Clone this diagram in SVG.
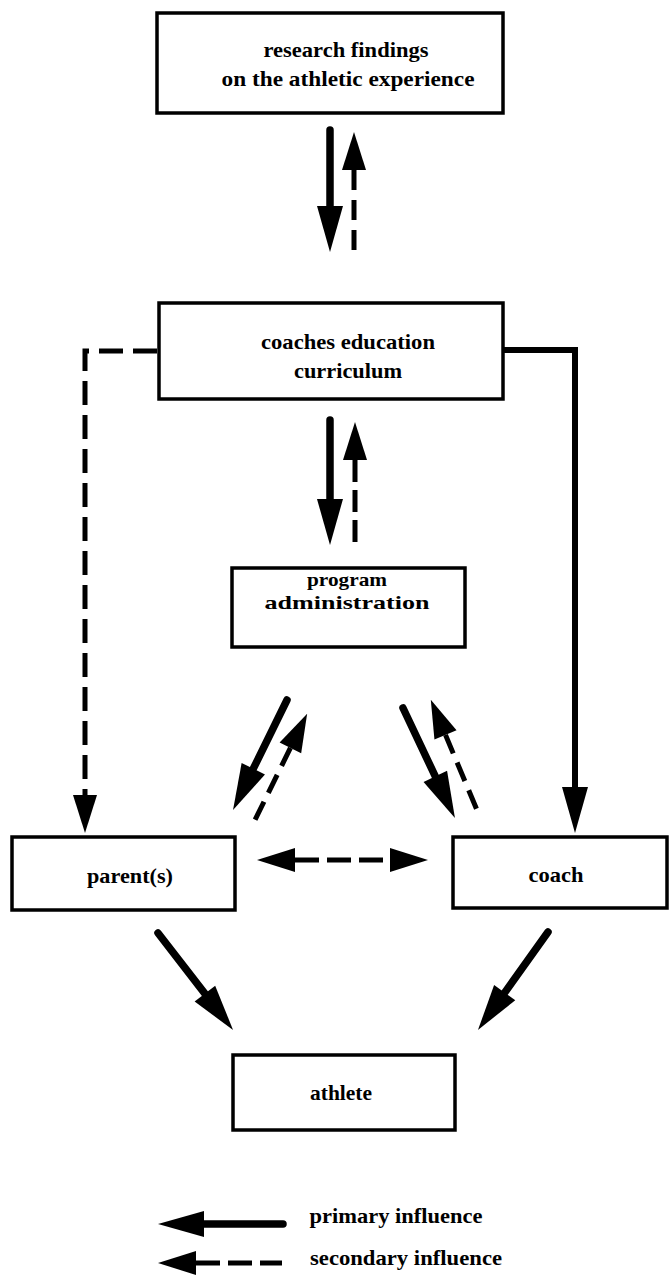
<svg xmlns="http://www.w3.org/2000/svg" width="670" height="1284" viewBox="0 0 670 1284">
<style>
.box{fill:#fff;stroke:#000;stroke-width:3.5}
.lbl{font-family:"Liberation Serif","Times New Roman",serif;font-weight:bold;font-size:21px;fill:#000;text-anchor:middle}
.sm{font-size:19px}
.pri{fill:none;stroke:#000;stroke-width:7.5;stroke-linecap:round;marker-end:url(#hp)}
.sec{fill:none;stroke:#000;stroke-width:5;stroke-dasharray:20 10;marker-start:url(#hs)}
.conn{fill:none;stroke:#000;stroke-width:6;stroke-linejoin:miter}
</style>
<defs>
<marker id="hp" markerUnits="userSpaceOnUse" orient="auto" refX="0" refY="0" markerWidth="60" markerHeight="40" viewBox="0 -20 60 40" overflow="visible">
<path d="M0,-13 L46,0 L0,13 Z" fill="#000"/>
</marker>
<marker id="hs" markerUnits="userSpaceOnUse" orient="auto-start-reverse" refX="0" refY="0" markerWidth="60" markerHeight="40" viewBox="0 -20 60 40" overflow="visible">
<path d="M0,-12 L38,0 L0,12 Z" fill="#000"/>
</marker>
<marker id="hse" markerUnits="userSpaceOnUse" orient="auto" refX="0" refY="0" markerWidth="60" markerHeight="40" viewBox="0 -20 60 40" overflow="visible">
<path d="M0,-12 L38,0 L0,12 Z" fill="#000"/>
</marker>
</defs>

<g id="research">
<rect class="box" x="157" y="13" width="346" height="100"/>
<text class="lbl" x="346" y="57" textLength="165" lengthAdjust="spacingAndGlyphs">research findings</text>
<text class="lbl" x="348" y="86" textLength="253" lengthAdjust="spacingAndGlyphs">on the athletic experience</text>
</g>

<g id="curriculum">
<rect class="box" x="159" y="303" width="344" height="96"/>
<text class="lbl" x="348" y="349" textLength="174" lengthAdjust="spacingAndGlyphs">coaches education</text>
<text class="lbl" x="348" y="378" textLength="108" lengthAdjust="spacingAndGlyphs">curriculum</text>
</g>

<g id="program">
<rect class="box" x="232" y="568" width="233" height="79"/>
<text class="lbl sm" x="347" y="586" textLength="80" lengthAdjust="spacingAndGlyphs">program</text>
<text class="lbl sm" x="347" y="609" textLength="165" lengthAdjust="spacingAndGlyphs">administration</text>
</g>

<g id="parents">
<rect class="box" x="12" y="837" width="223" height="73"/>
<text class="lbl" x="130" y="883" textLength="86" lengthAdjust="spacingAndGlyphs">parent(s)</text>
</g>

<g id="coach">
<rect class="box" x="453" y="837" width="214" height="71"/>
<text class="lbl" x="556" y="882" textLength="55" lengthAdjust="spacingAndGlyphs">coach</text>
</g>

<g id="athlete">
<rect class="box" x="233" y="1055" width="222" height="75"/>
<text class="lbl" x="341" y="1100" textLength="62" lengthAdjust="spacingAndGlyphs">athlete</text>
</g>

<g id="connectors">
<path class="pri" d="M330,130 V206"/>
<path class="sec" d="M354,170 V252"/>
<path class="pri" d="M330,420 V499"/>
<path class="sec" style="stroke-dasharray:22 8" d="M355,460 V545"/>
<path fill="none" stroke="#000" stroke-width="5" stroke-dasharray="24 10" marker-end="url(#hse)" d="M157,351 H85 V795"/>
<path class="conn" marker-end="url(#hp)" d="M503,350 H575 V787"/>
<path class="pri" d="M287,700 L253.3,768.7"/>
<path class="sec" d="M290.4,747.9 L255,820"/>
<path class="pri" d="M403,708 L435.3,776.4"/>
<path class="sec" d="M445.5,734.9 L477,810"/>
<path class="sec" style="stroke-dasharray:24 8" marker-end="url(#hse)" d="M295,860 H390"/>
<path class="pri" d="M158,933 L204.9,993.6"/>
<path class="pri" d="M548,932 L504.7,992.6"/>
</g>

<g id="legend">
<path class="pri" d="M283,1224 H204"/>
<text class="lbl" x="396" y="1223" textLength="173" lengthAdjust="spacingAndGlyphs">primary influence</text>
<path class="sec" style="stroke-dasharray:24 8" d="M196,1263 H282"/>
<text class="lbl" x="406" y="1265" textLength="192" lengthAdjust="spacingAndGlyphs">secondary influence</text>
</g>
</svg>
